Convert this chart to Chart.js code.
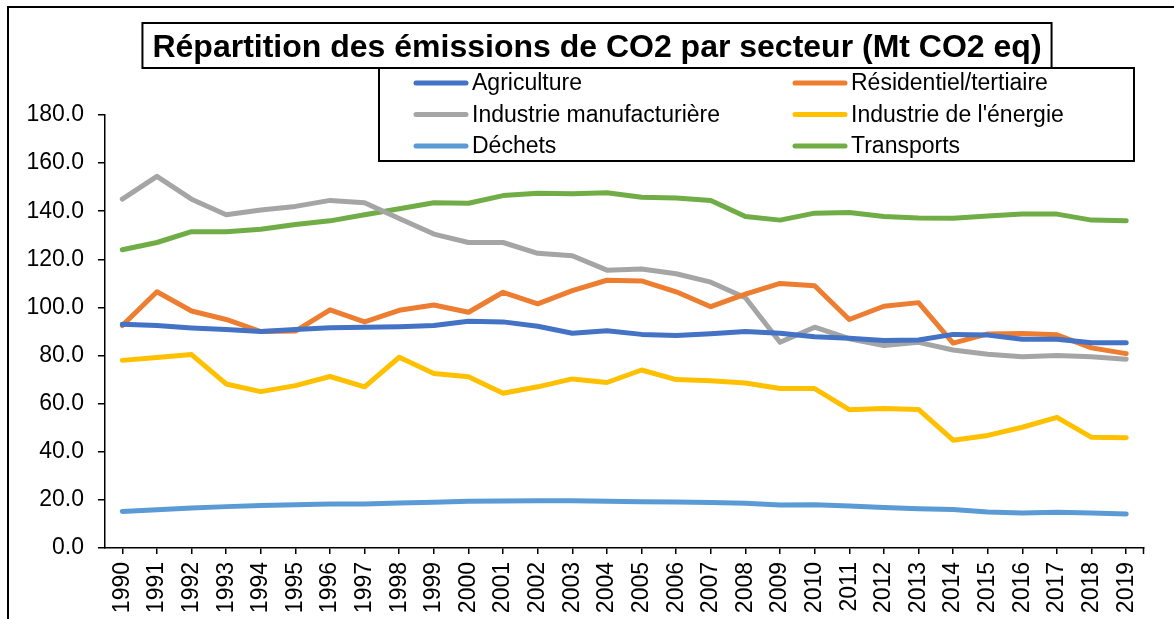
<!DOCTYPE html>
<html>
<head>
<meta charset="utf-8">
<script src="https://cdn.jsdelivr.net/npm/chart.js@4.4.0/dist/chart.umd.min.js"></script>
<style>
html,body{margin:0;padding:0;background:#fff;}
#wrap{width:1174px;height:619px;position:relative;}
canvas{display:block;}
</style>
</head>
<body>
<div id="wrap"><canvas id="c" width="1174" height="619"></canvas></div>
<script>
const years = ['1990','1991','1992','1993','1994','1995','1996','1997','1998','1999','2000','2001','2002','2003','2004','2005','2006','2007','2008','2009','2010','2011','2012','2013','2014','2015','2016','2017','2018','2019'];

const agriculture = [93,92.5,91.5,90.8,90,90.8,91.6,91.8,92,92.5,94.3,94,92.2,89.3,90.3,88.8,88.3,89.1,90,89.3,87.8,87.2,86.3,86.5,88.8,88.5,86.8,86.8,85.3,85.3];
const residentiel = [92.5,106.5,98.5,95,90,90.2,99,94,98.8,101,98,106.3,101.5,107,111.3,111,106.5,100.3,105.5,110,109,95,100.5,102,85.2,89,89.2,88.6,83.2,80.8];
const industrieManuf = [145,154.5,145,138.5,140.5,142,144.5,143.5,137,130.5,127,127,122.5,121.5,115.5,116,114,110.5,104,85.5,91.8,87,84.2,85.5,82.3,80.5,79.5,80,79.5,78.5];
const industrieEnergie = [78,79.2,80.4,68.2,65,67.5,71.3,67,79.3,72.5,71.2,64.3,67,70.3,68.8,74,70,69.5,68.6,66.3,66.3,57.5,58,57.6,44.8,46.8,50.2,54.3,46,45.8];
const dechets = [15.2,15.9,16.6,17.2,17.7,18,18.3,18.3,18.7,19,19.4,19.5,19.6,19.6,19.4,19.2,19.1,18.9,18.6,17.9,18,17.5,16.8,16.3,16,15,14.6,14.9,14.5,14.1];
const transports = [124,127,131.5,131.5,132.5,134.5,136,138.5,141,143.5,143.3,146.5,147.5,147.3,147.7,145.8,145.5,144.5,137.8,136.3,139.2,139.5,137.8,137.2,137.1,138,138.8,138.8,136.3,136];

const seriesLabels = ['Agriculture','Résidentiel/tertiaire','Industrie manufacturière',"Industrie de l'énergie",'Déchets','Transports'];
const seriesColors = ['#4472C4','#ED7D31','#A5A5A5','#FFC000','#5B9BD5','#70AD47'];
const seriesData = [agriculture, residentiel, industrieManuf, industrieEnergie, dechets, transports];

const titleText = 'Répartition des émissions de CO2 par secteur (Mt CO2 eq)';
const FONT = '"Liberation Sans", Arial, sans-serif';

const framePlugin = {
  id: 'frame',
  beforeDraw(chart) {
    const ctx = chart.ctx;
    ctx.save();
    ctx.fillStyle = '#fff';
    ctx.fillRect(0, 0, chart.width, chart.height);
    ctx.strokeStyle = '#000';
    ctx.lineWidth = 2;
    ctx.beginPath();
    ctx.moveTo(chart.width, 7);
    ctx.lineTo(8, 7);
    ctx.lineTo(8, chart.height);
    ctx.stroke();
    ctx.restore();
  },
  afterDraw(chart) {
    const ctx = chart.ctx;
    const area = chart.chartArea;
    ctx.save();
    // end tick on the x axis
    ctx.strokeStyle = '#000';
    ctx.lineWidth = 1.5;
    ctx.beginPath();
    ctx.moveTo(area.right, area.bottom);
    ctx.lineTo(area.right, area.bottom + 6);
    ctx.stroke();

    // title box
    ctx.font = 'bold 32px ' + FONT;
    const tw = ctx.measureText(titleText).width;
    const cx = 597;
    const tx0 = cx - tw / 2 - 10, ty0 = 23, tw2 = tw + 20, th = 45;
    ctx.fillStyle = '#fff';
    ctx.fillRect(tx0, ty0, tw2, th);
    ctx.lineWidth = 2;
    ctx.strokeRect(tx0, ty0, tw2, th);
    ctx.fillStyle = '#000';
    ctx.textAlign = 'center';
    ctx.textBaseline = 'alphabetic';
    ctx.fillText(titleText, cx, 57);

    // legend box
    const lx = 379, ly = 68, lw = 755, lh = 93;
    ctx.fillStyle = '#fff';
    ctx.fillRect(lx, ly, lw, lh);
    ctx.lineWidth = 2;
    ctx.strokeStyle = '#000';
    ctx.strokeRect(lx, ly, lw, lh);
    ctx.font = '23px ' + FONT;
    ctx.textAlign = 'left';
    ctx.textBaseline = 'middle';
    const cols = [416, 795];
    const rows = [83, 114.5, 146];
    chart.data.datasets.forEach((ds, i) => {
      const x = cols[i % 2], y = rows[Math.floor(i / 2)];
      ctx.strokeStyle = ds.borderColor;
      ctx.lineWidth = 5;
      ctx.lineCap = 'round';
      ctx.beginPath();
      ctx.moveTo(x, y);
      ctx.lineTo(x + 50, y);
      ctx.stroke();
      ctx.fillStyle = '#000';
      ctx.fillText(ds.label, x + 56, y + 1);
    });
    ctx.restore();
  }
};

new Chart(document.getElementById('c'), {
  type: 'line',
  data: {
    labels: years,
    datasets: seriesLabels.map((lab, i) => ({
      label: lab,
      data: seriesData[i],
      borderColor: seriesColors[i],
      backgroundColor: seriesColors[i],
      borderWidth: 5,
      borderCapStyle: 'round',
      borderJoinStyle: 'round',
      pointRadius: 0,
      pointHoverRadius: 0,
      tension: 0,
      fill: false
    }))
  },
  options: {
    responsive: false,
    animation: false,
    events: [],
    layout: { padding: { top: 115, right: 30.5, left: 0, bottom: 0 } },
    plugins: {
      legend: { display: false },
      title: { display: false },
      tooltip: { enabled: false }
    },
    scales: {
      x: {
        offset: true,
        afterFit(s) { s.height = 71; },
        grid: { display: true, drawOnChartArea: false, drawTicks: true, tickLength: 6, color: '#000', lineWidth: 1.5, offset: false },
        border: { display: true, color: '#000', width: 1.5 },
        ticks: { color: '#000', font: { family: FONT, size: 23 }, minRotation: 90, maxRotation: 90, padding: 8, autoSkip: false }
      },
      y: {
        min: 0,
        max: 180,
        afterFit(s) { s.width = 105; },
        grid: { display: true, drawOnChartArea: false, drawTicks: true, tickLength: 7, color: '#000', lineWidth: 1.5 },
        border: { display: true, color: '#000', width: 1.5 },
        ticks: { stepSize: 20, color: '#000', font: { family: FONT, size: 23 }, padding: 14, callback: v => v.toFixed(1) }
      }
    }
  },
  plugins: [framePlugin]
});
</script>
</body>
</html>
